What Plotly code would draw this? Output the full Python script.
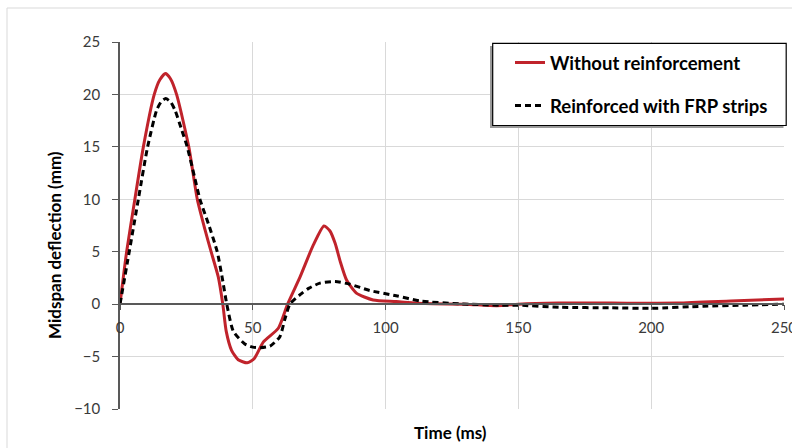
import plotly.graph_objects as go

# ---- data ----
t_unreinforced = [0, 2.5, 5.6, 8.8, 12.9, 15, 17.1, 19, 21.3, 25.9, 29.1, 32, 34.3, 37, 38.7,
                  40, 42, 44.5, 47.9, 50.5, 54, 59.6, 63.1, 67.8, 72.8, 76.8, 79, 81, 83,
                  85.3, 89, 95.3, 104, 115, 130, 141.8, 150, 165, 185, 210, 230, 250]
d_unreinforced = [0, 5, 10, 15, 20, 21.4, 22.0, 21.5, 20, 15, 10, 7.1, 5, 2.6, 0,
                  -2.6, -4.4, -5.3, -5.6, -5.2, -3.6, -2.3, 0, 2.6, 5.65, 7.46, 7.0, 5.8, 4.0,
                  2.3, 1.05, 0.4, 0.25, 0.05, 0, -0.15, 0, 0.1, 0.1, 0.1, 0.3, 0.5]

t_frp = [0, 3, 6.9, 10.4, 13.8, 15.5, 17.2, 19, 20.7, 23, 25.3, 28, 30.1, 33.5, 36.6, 38.5,
         40.2, 42.7, 47, 50, 53, 56.5, 60.2, 62, 64, 67.8, 71, 75.3, 81, 86.6, 94, 104,
         113, 128, 143, 150, 165.7, 185, 200, 219.6, 235, 250]
d_frp = [0, 4.3, 10, 15, 18.5, 19.3, 19.6, 19.3, 18.5, 16.8, 15, 12.2, 10, 7.5, 5, 2.5,
         0, -2.6, -3.8, -4.1, -4.15, -4.0, -3.1, -1.5, 0, 0.9, 1.5, 2.0, 2.15, 1.9, 1.3, 0.8,
         0.3, 0.03, -0.1, -0.1, -0.3, -0.35, -0.4, -0.2, -0.1, 0.0]

x_ticks = [0, 50, 100, 150, 200, 250]
y_ticks = [-10, -5, 0, 5, 10, 15, 20, 25]
series_names = ["Without reinforcement", "Reinforced with FRP strips"]

# ---- geometry ----
W, H = 792, 448
L, R, T, B = 120, 8, 42, 39
pw, ph = W - L - R, H - T - B
def px(x):
    return (x - L) / pw
def py(y):
    return (H - B - y) / ph

FONT = "Lato"
fig = go.Figure()
fig.add_trace(go.Scatter(
    x=t_unreinforced, y=d_unreinforced, mode="lines", name=series_names[0],
    line=dict(color="#C0232B", width=3, shape="spline", smoothing=0.6),
    legendgroup="a"))
fig.add_trace(go.Scatter(
    x=t_frp, y=d_frp, mode="lines", name=series_names[1],
    line=dict(color="#000000", width=3, dash="6px,4px", shape="spline", smoothing=0.6),
    legendgroup="b"))

fig.update_layout(
    width=W, height=H, margin=dict(l=L, r=R, t=T, b=B, pad=0, autoexpand=False),
    paper_bgcolor="white", plot_bgcolor="white",
    font=dict(family=FONT, size=15, color="#3a3a3a"),
    showlegend=True,
    legend=dict(x=px(510), y=py(44), xanchor="left", yanchor="top",
                bgcolor="rgba(0,0,0,0)", borderwidth=0,
                font=dict(family=FONT, size=18.5, color="#000000", weight="bold"),
                tracegroupgap=16, traceorder="grouped", itemwidth=30),
    xaxis=dict(range=[0, 250], tickvals=x_ticks, showgrid=True, gridcolor="#d9d9d9",
               gridwidth=1, zeroline=False, showline=True, linecolor="#595959",
               linewidth=1.5, ticks="outside", ticklen=5, tickcolor="#595959",
               anchor="free", position=10 / 35, ticklabelstandoff=5,
               ticklabeloverflow="allow", automargin=False,
               tickfont=dict(family=FONT, size=15, color="#3a3a3a")),
    yaxis=dict(range=[-10, 25], tickvals=y_ticks, showgrid=True, gridcolor="#d9d9d9",
               gridwidth=1, zeroline=False, showline=True, linecolor="#595959",
               linewidth=1.5, ticks="outside", ticklen=6, tickcolor="#595959",
               ticklabelstandoff=9, automargin=False,
               tickfont=dict(family=FONT, size=15, color="#3a3a3a")),
    shapes=[
        # outer chart frame
        dict(type="rect", xref="paper", yref="paper", x0=px(7), x1=px(820),
             y0=py(470), y1=py(8), line=dict(color="#d9d9d9", width=1), layer="below"),
        # legend shadow
        dict(type="rect", xref="paper", yref="paper", x0=px(490), x1=px(783.5),
             y0=py(128), y1=py(46), line=dict(width=0), fillcolor="#9a9a9a", layer="above"),
        # legend box
        dict(type="rect", xref="paper", yref="paper", x0=px(492.7), x1=px(786.2),
             y0=py(125.5), y1=py(43.3), line=dict(color="#000000", width=1.2),
             fillcolor="white", layer="above"),
    ],
    annotations=[
        dict(text="Midspan deflection (mm)", xref="paper", yref="paper", x=px(54), y=py(245),
             showarrow=False, textangle=-90, xanchor="center", yanchor="middle",
             font=dict(family=FONT, size=17, color="#000000", weight="bold")),
        dict(text="Time (ms)", xref="paper", yref="paper", x=px(450.5), y=py(432),
             showarrow=False, xanchor="center", yanchor="middle",
             font=dict(family=FONT, size=17, color="#000000", weight="bold")),
    ],
)

fig.write_html("out.html")
